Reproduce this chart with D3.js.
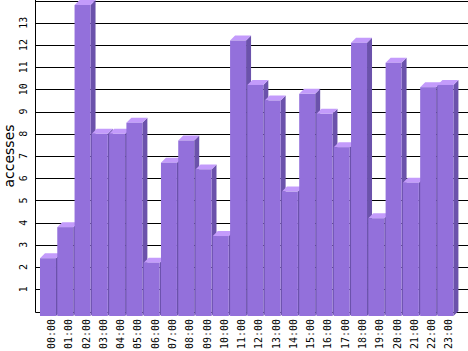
<!DOCTYPE html>
<html>
<head>
<meta charset="utf-8">
<script src="https://cdn.jsdelivr.net/npm/d3@7"></script>
<style>
  body { margin: 0; background: #fff; }
  svg { display: block; }
</style>
</head>
<body>
<div id="chart"></div>
<script>
// accesses per hour of day
const hours = ["00:00", "01:00", "02:00", "03:00", "04:00", "05:00", "06:00", "07:00",
    "08:00", "09:00", "10:00", "11:00", "12:00", "13:00", "14:00", "15:00",
    "16:00", "17:00", "18:00", "19:00", "20:00", "21:00", "22:00", "23:00"];
const accesses = [2.6, 4.0, 14.0, 8.2, 8.2, 8.7, 2.4, 6.9, 7.9, 6.6, 3.6, 12.4,
    10.4, 9.7, 5.6, 10.0, 9.1, 7.6, 12.3, 4.4, 11.4, 6.0, 10.3, 10.4];
const yTicks = [1, 2, 3, 4, 5, 6, 7, 8, 9, 10, 11, 12, 13];

const w = 468, h = 351;
const depth = 5;           // 3d offset of the bars
const axisX = 35.5;

var svg = d3.select("#chart").append("svg")
    .attr("width", w)
    .attr("height", h);

var y = d3.scaleLinear().domain([0, 14]).range([311.5, 0.5]);

var x = d3.scaleBand()
    .domain(hours)
    .range([40, 40 + 24 * 17.28])
    .padding(0);

var barW = x.bandwidth() - 1.3;

// grid lines (back plane)
svg.append("g").selectAll("line")
    .data([0].concat(yTicks, [14]))
    .enter().append("line")
    .attr("x1", axisX).attr("x2", w)
    .attr("y1", d => Math.round(y(d)) + 0.5)
    .attr("y2", d => Math.round(y(d)) + 0.5)
    .attr("stroke", "#000")
    .attr("stroke-width", 1);

// y axis line
svg.append("line")
    .attr("x1", axisX).attr("x2", axisX)
    .attr("y1", 0).attr("y2", Math.round(y(0)) + 0.5)
    .attr("stroke", "#000");

// bars, front face shifted down-left of the back plane
var bars = svg.append("g").selectAll("g")
    .data(hours.map((hr, i) => ({ hour: hr, value: accesses[i] })))
    .enter().append("g");

var bottom = y(0) + depth - 0.5;

bars.append("polygon")   // side
    .attr("fill", "#6b52ab")
    .attr("points", function(d) {
        var x1 = x(d.hour) + barW, top = y(d.value) + depth - 0.5;
        return [[x1, top], [x1 + depth, top - depth], [x1 + depth, bottom - depth], [x1, bottom]].join(" ");
    });

bars.append("polygon")   // top
    .attr("fill", "#c39bfb")
    .attr("points", function(d) {
        var x0 = x(d.hour), x1 = x0 + barW, top = y(d.value) + depth - 0.5;
        return [[x0, top], [x1, top], [x1 + depth, top - depth], [x0 + depth, top - depth]].join(" ");
    });

bars.append("rect")      // front
    .attr("fill", "#9370db")
    .attr("x", d => x(d.hour))
    .attr("y", d => y(d.value) + depth - 0.5)
    .attr("width", barW)
    .attr("height", d => bottom - (y(d.value) + depth - 0.5));

// y tick labels, rotated
svg.append("g").selectAll("text")
    .data(yTicks)
    .enter().append("text")
    .attr("transform", d => "translate(26.5," + y(d) + ") rotate(-90)")
    .attr("text-anchor", "middle")
    .attr("font-family", "DejaVu Sans Mono")
    .attr("font-size", 10)
    .attr("fill", "#000")
    .text(d => d);

// x tick labels, rotated
svg.append("g").selectAll("text")
    .data(hours)
    .enter().append("text")
    .attr("transform", d => "translate(" + (x(d) + 11.5) + ",319) rotate(-90)")
    .attr("text-anchor", "end")
    .attr("dominant-baseline", "central")
    .attr("font-family", "DejaVu Sans Mono")
    .attr("font-size", 10)
    .attr("fill", "#000")
    .text(d => d);

// axis title
svg.append("text")
    .attr("transform", "translate(13.5,156) rotate(-90)")
    .attr("text-anchor", "middle")
    .attr("font-family", "DejaVu Sans")
    .attr("font-size", 14)
    .attr("fill", "#000")
    .text("accesses");
</script>
</body>
</html>
